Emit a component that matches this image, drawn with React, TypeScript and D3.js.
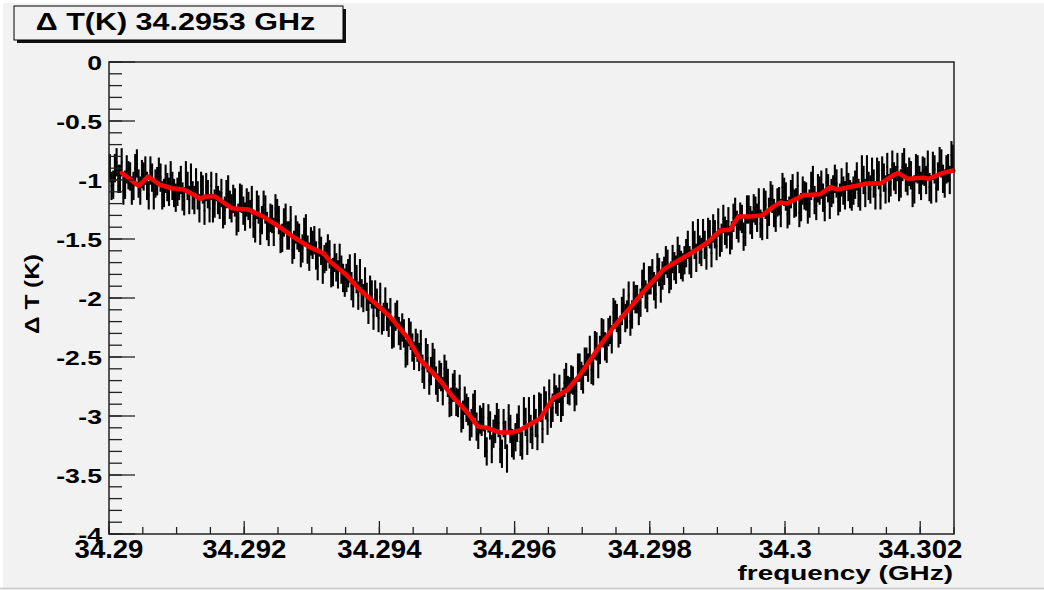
import React from "react";
import * as d3 from "d3";

// Measured brightness-temperature change across the line.
// Bins are 25 kHz wide; even- and odd-numbered bins are listed separately.
const FREQ_START = 34.29; // GHz, lower edge of the first bin
const BIN_WIDTH = 0.000025; // GHz
const DT_ERROR = 0.12; // K, half-height of each error bar
const DT_EVEN_BINS = [
  -0.90, -1.04, -0.85, -0.99, -1.09, -0.91, -0.97, -1.05, -0.86, -1.09,
  -0.97, -1.05, -0.92, -1.13, -1.01, -0.98, -1.11, -1.06, -0.96, -1.11,
  -1.10, -1.00, -1.18, -1.05, -0.98, -1.17, -1.13, -1.05, -1.26, -1.12,
  -1.05, -1.20, -1.17, -1.11, -1.26, -1.08, -1.24, -1.19, -1.32, -1.16,
  -1.31, -1.22, -1.17, -1.41, -1.25, -1.34, -1.25, -1.44, -1.33, -1.24,
  -1.34, -1.49, -1.32, -1.47, -1.59, -1.42, -1.49, -1.58, -1.41, -1.65,
  -1.55, -1.64, -1.53, -1.76, -1.65, -1.63, -1.78, -1.74, -1.66, -1.83,
  -1.83, -1.75, -1.96, -1.84, -1.79, -2.00, -1.99, -1.93, -2.15, -2.04,
  -1.99, -2.16, -2.16, -2.12, -2.30, -2.14, -2.32, -2.30, -2.45, -2.32,
  -2.49, -2.42, -2.39, -2.65, -2.51, -2.62, -2.55, -2.76, -2.67, -2.60,
  -2.72, -2.88, -2.73, -2.89, -3.02, -2.87, -2.96, -3.06, -2.90, -3.16,
  -3.05, -3.23, -3.02, -3.28, -3.11, -3.06, -3.32, -3.16, -3.02, -3.23,
  -3.18, -3.03, -3.25, -3.05, -2.96, -3.16, -3.06, -2.92, -3.11, -2.91,
  -2.81, -2.93, -2.86, -2.77, -2.88, -2.67, -2.79, -2.70, -2.79, -2.59,
  -2.69, -2.54, -2.44, -2.62, -2.41, -2.44, -2.30, -2.43, -2.27, -2.12,
  -2.17, -2.27, -2.04, -2.14, -2.20, -1.98, -2.01, -2.04, -1.82, -2.00,
  -1.85, -1.90, -1.74, -1.92, -1.77, -1.71, -1.81, -1.73, -1.60, -1.72,
  -1.68, -1.55, -1.71, -1.55, -1.45, -1.61, -1.55, -1.44, -1.62, -1.46,
  -1.36, -1.49, -1.43, -1.35, -1.47, -1.27, -1.41, -1.33, -1.44, -1.25,
  -1.38, -1.26, -1.19, -1.39, -1.21, -1.27, -1.16, -1.32, -1.18, -1.06,
  -1.14, -1.26, -1.07, -1.19, -1.28, -1.09, -1.14, -1.20, -1.00, -1.22,
  -1.09, -1.15, -1.02, -1.21, -1.08, -1.03, -1.15, -1.09, -0.97, -1.12,
  -1.09, -0.97, -1.14, -1.00, -0.91, -1.08, -1.03, -0.93, -1.13, -0.98,
  -0.89, -1.02, -0.97, -0.89, -1.03, -0.85, -1.01, -0.96, -1.08, -0.91,
  -1.05, -0.93, -0.87, -1.08, -0.91, -0.97, -0.86, -1.03, -0.90, -0.79,
];
const DT_ODD_BINS = [
  -1.05, -0.90, -0.99, -0.85, -1.04, -0.96, -1.09, -0.90, -1.03, -0.95,
  -0.92, -1.13, -0.98, -1.03, -0.93, -1.13, -0.99, -1.10, -1.05, -1.15,
  -1.05, -1.14, -0.96, -1.17, -1.13, -1.02, -1.24, -1.08, -1.06, -1.24,
  -1.24, -1.06, -1.21, -1.29, -1.12, -1.21, -1.16, -1.35, -1.15, -1.26,
  -1.19, -1.29, -1.37, -1.21, -1.43, -1.21, -1.39, -1.32, -1.44, -1.28,
  -1.50, -1.36, -1.47, -1.34, -1.55, -1.47, -1.62, -1.44, -1.59, -1.52,
  -1.51, -1.73, -1.60, -1.67, -1.58, -1.79, -1.66, -1.80, -1.76, -1.87,
  -1.79, -1.90, -1.74, -1.98, -1.96, -1.86, -2.10, -1.97, -1.97, -2.17,
  -2.19, -2.03, -2.21, -2.31, -2.16, -2.28, -2.25, -2.47, -2.29, -2.42,
  -2.38, -2.50, -2.60, -2.46, -2.70, -2.50, -2.70, -2.65, -2.79, -2.65,
  -2.89, -2.76, -2.88, -2.77, -2.99, -2.93, -3.09, -2.93, -3.09, -3.03,
  -3.01, -3.30, -3.08, -3.15, -3.01, -3.28, -3.06, -3.36, -3.11, -3.25,
  -3.10, -3.22, -2.96, -3.21, -3.11, -2.94, -3.17, -2.93, -2.87, -3.04,
  -2.98, -2.76, -2.88, -2.93, -2.72, -2.78, -2.69, -2.84, -2.59, -2.66,
  -2.54, -2.59, -2.61, -2.40, -2.56, -2.29, -2.41, -2.29, -2.35, -2.14,
  -2.30, -2.11, -2.17, -1.98, -2.14, -2.01, -2.11, -1.88, -1.97, -1.85,
  -1.79, -1.97, -1.78, -1.81, -1.68, -1.84, -1.67, -1.76, -1.67, -1.74,
  -1.62, -1.68, -1.47, -1.66, -1.59, -1.45, -1.64, -1.46, -1.41, -1.56,
  -1.53, -1.33, -1.46, -1.51, -1.32, -1.38, -1.31, -1.48, -1.25, -1.34,
  -1.24, -1.32, -1.37, -1.19, -1.38, -1.13, -1.28, -1.19, -1.28, -1.10,
  -1.29, -1.12, -1.20, -1.05, -1.23, -1.13, -1.25, -1.05, -1.17, -1.07,
  -1.04, -1.23, -1.07, -1.11, -0.99, -1.18, -1.02, -1.13, -1.06, -1.14,
  -1.04, -1.11, -0.91, -1.11, -1.05, -0.93, -1.13, -0.96, -0.92, -1.08,
  -1.07, -0.87, -1.00, -1.06, -0.89, -0.98, -0.93, -1.11, -0.90, -1.00,
  -0.92, -1.00, -1.06, -0.88, -1.07, -0.84, -0.99, -0.91, -1.00, -0.82,
];

// Smoothed (running average) curve
const SMOOTH_FREQ = [
  34.29019, 34.29044, 34.29058, 34.29075, 34.29093, 34.2911, 34.29124, 34.29135,
  34.29142, 34.29157, 34.29182, 34.29206, 34.29228, 34.29253, 34.29272, 34.29297,
  34.29317, 34.29327, 34.29352, 34.29371, 34.29401, 34.29416, 34.29441, 34.2946,
  34.2949, 34.29509, 34.2953, 34.29546, 34.29559, 34.29579, 34.29596, 34.29608,
  34.29623, 34.29638, 34.29657, 34.29678, 34.29697, 34.29722, 34.29746, 34.29771,
  34.29796, 34.2982, 34.2984, 34.29864, 34.29885, 34.29904, 34.29919, 34.29931,
  34.29948, 34.29966, 34.29982, 34.29993, 34.30003, 34.30027, 34.30052, 34.30067,
  34.30077, 34.30096, 34.30122, 34.30141, 34.3016, 34.30167, 34.30182, 34.30204,
  34.30212, 34.30234, 34.30249,
];
const SMOOTH_DT = [
  -0.94, -1.05, -0.97, -1.04, -1.07, -1.08, -1.12, -1.16,
  -1.14, -1.14, -1.24, -1.25, -1.31, -1.4, -1.48, -1.57,
  -1.62, -1.69, -1.81, -1.93, -2.08, -2.16, -2.33, -2.52,
  -2.7, -2.84, -2.97, -3.09, -3.1, -3.14, -3.14, -3.12,
  -3.07, -3.02, -2.85, -2.78, -2.65, -2.44, -2.25, -2.08,
  -1.91, -1.76, -1.69, -1.61, -1.53, -1.43, -1.42, -1.31,
  -1.31, -1.3, -1.23, -1.19, -1.2, -1.13, -1.12, -1.06,
  -1.08, -1.06, -1.03, -1.03, -0.96, -0.94, -0.99, -0.98,
  -0.99, -0.94, -0.92,
];

const X_TICKS = [34.29, 34.292, 34.294, 34.296, 34.298, 34.3, 34.302];
const X_TICK_LABELS = ["34.29", "34.292", "34.294", "34.296", "34.298", "34.3", "34.302"];
const Y_TICKS = [0, -0.5, -1, -1.5, -2, -2.5, -3, -3.5, -4];
const Y_TICK_LABELS = ["0", "-0.5", "-1", "-1.5", "-2", "-2.5", "-3", "-3.5", "-4"];

const TITLE = "\u0394 T(K) 34.2953 GHz";
const X_TITLE = "frequency (GHz)";
const Y_TITLE = "\u0394 T (K)";

const W = 1044;
const H = 590;
const LEFT = 109;
const RIGHT = 954;
const TOP = 62;
const BOTTOM = 534;
const FONT = "'Liberation Sans', Arial, Helvetica, sans-serif";
const BG = "#f2f2f2";

export default function App() {
  const x = d3.scaleLinear().domain([34.29, 34.3025]).range([LEFT, RIGHT]);
  const y = d3.scaleLinear().domain([-4, 0]).range([BOTTOM, TOP]);

  // interleave the two bin lists back into frequency order
  const bins: { f: number; v: number }[] = [];
  DT_EVEN_BINS.forEach((v, j) => {
    bins.push({ f: FREQ_START + (2 * j + 0.5) * BIN_WIDTH, v });
    bins.push({ f: FREQ_START + (2 * j + 1.5) * BIN_WIDTH, v: DT_ODD_BINS[j] });
  });

  const smooth = SMOOTH_FREQ.map((f, i) => [f, SMOOTH_DT[i]] as [number, number]);
  const line = d3
    .line<[number, number]>()
    .x((d) => x(d[0]))
    .y((d) => y(d[1]));

  const xMinor = d3.range(0, 26).map((i) => 34.29 + i * 0.0005);
  const yMinor = d3.range(0, 41).map((i) => -i * 0.1);

  const [x0, x1] = x.domain();
  const clip = (f: number) => Math.min(Math.max(f, x0), x1);

  return (
    <div style={{ position: "fixed", left: 0, top: 0 }}>
      <svg width={W} height={H} style={{ display: "block" }}>
        <rect x={0} y={0} width={W} height={H} fill="#ffffff" />
        <rect x={3} y={3} width={W - 3} height={H - 5} fill={BG} />
        <line x1={0} x2={W} y1={H - 1.5} y2={H - 1.5} stroke="#cfcfcf" strokeWidth={2} />

        {/* data points with error bars */}
        <g stroke="#000" strokeWidth={2.1}>
          {bins.map((b, i) => (
            <g key={i}>
              <line
                x1={x(b.f)}
                x2={x(b.f)}
                y1={y(b.v - DT_ERROR)}
                y2={y(b.v + DT_ERROR)}
              />
              <line
                x1={x(clip(b.f - BIN_WIDTH / 2))}
                x2={x(clip(b.f + BIN_WIDTH / 2))}
                y1={y(b.v)}
                y2={y(b.v)}
              />
            </g>
          ))}
        </g>

        {/* smoothed curve */}
        <path
          d={line(smooth) || ""}
          fill="none"
          stroke="#ff0000"
          strokeWidth={4.5}
          strokeLinejoin="round"
          strokeLinecap="round"
        />

        {/* frame */}
        <rect
          x={LEFT}
          y={TOP}
          width={RIGHT - LEFT}
          height={BOTTOM - TOP}
          fill="none"
          stroke="#222"
          strokeWidth={1.5}
        />

        {/* ticks */}
        <g stroke="#222" strokeWidth={1.3}>
          {xMinor.map((t, i) => (
            <line key={"xm" + i} x1={x(t)} x2={x(t)} y1={BOTTOM} y2={BOTTOM - 7} />
          ))}
          {X_TICKS.map((t, i) => (
            <line key={"xM" + i} x1={x(t)} x2={x(t)} y1={BOTTOM} y2={BOTTOM - 13} />
          ))}
          {yMinor.map((t, i) => (
            <line key={"ym" + i} x1={LEFT} x2={LEFT + 13} y1={y(t)} y2={y(t)} />
          ))}
          {Y_TICKS.map((t, i) => (
            <line key={"yM" + i} x1={LEFT} x2={LEFT + 26} y1={y(t)} y2={y(t)} />
          ))}
        </g>

        {/* tick labels and axis titles */}
        <g fontFamily={FONT} fontWeight="bold" fill="#000">
          {X_TICKS.map((t, i) => (
            <text
              key={"xl" + i}
              transform={`translate(${x(t)},558) scale(1.1,1)`}
              textAnchor="middle"
              fontSize={25}
            >
              {X_TICK_LABELS[i]}
            </text>
          ))}
          {Y_TICKS.map((t, i) => (
            <text
              key={"yl" + i}
              transform={`translate(102,${y(t) + 7.5}) scale(1.33,1)`}
              textAnchor="end"
              fontSize={20}
            >
              {Y_TICK_LABELS[i]}
            </text>
          ))}
          <text transform="translate(953,580) scale(1.33,1)" textAnchor="end" fontSize={21}>
            {X_TITLE}
          </text>
          <text
            transform="translate(39,294) rotate(-90) scale(1.22,1)"
            textAnchor="middle"
            fontSize={20}
          >
            {Y_TITLE}
          </text>
        </g>

        {/* title box */}
        <rect x={17} y={9} width={329} height={34} fill="#111" />
        <rect x={14} y={6} width={329} height={34} fill={BG} stroke="#000" strokeWidth={1} />
        <text
          transform="translate(175.5,29.5) scale(1.27,1)"
          textAnchor="middle"
          fontFamily={FONT}
          fontWeight="bold"
          fontSize={24}
          fill="#000"
        >
          {TITLE}
        </text>
      </svg>
    </div>
  );
}
